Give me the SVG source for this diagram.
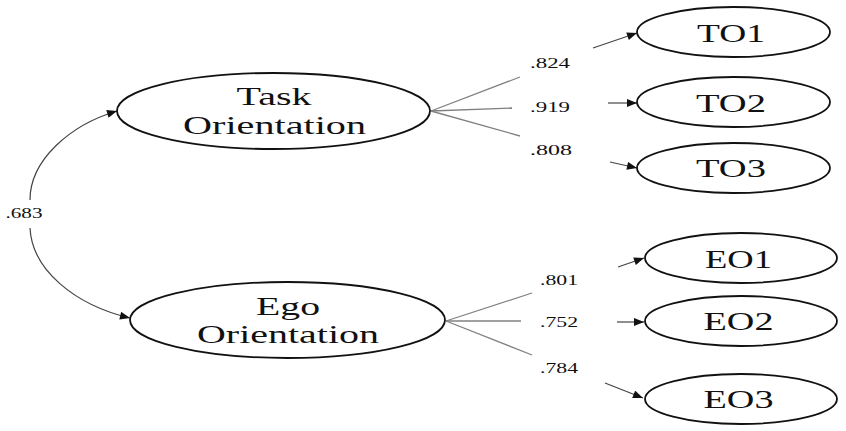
<svg xmlns="http://www.w3.org/2000/svg" width="846" height="431" viewBox="0 0 846 431">
<style>
.node ellipse{fill:#fff;stroke:#111;stroke-width:1.8}
.big{font-family:"Liberation Serif","Times New Roman",serif;font-size:26px;fill:#111;text-anchor:middle}
.lbl{font-family:"Liberation Serif","Times New Roman",serif;font-size:14px;fill:#111;text-anchor:middle}
.load{stroke:#808080;stroke-width:1.3;fill:none}
.arr{stroke:#444;stroke-width:1.2;fill:none;marker-end:url(#ah)}
</style>
<defs>
<marker id="ah" viewBox="0 0 10 8" refX="10" refY="4" markerWidth="11" markerHeight="8" markerUnits="userSpaceOnUse" orient="auto">
<path d="M0,0 L10,4 L0,8 z" fill="#111"/>
</marker>
</defs>
<rect width="846" height="431" fill="#fff"/>
<g id="connectors">
<path class="arr" d="M30,200 C30,160 70,125 117,111"/>
<path class="arr" d="M30,228 C32,270 75,305 130,318"/>
<line class="load" x1="431" y1="111" x2="520" y2="77"/>
<line class="load" x1="431" y1="111" x2="512" y2="108"/>
<line class="load" x1="431" y1="111" x2="520" y2="136"/>
<line class="load" x1="446" y1="321" x2="532" y2="293"/>
<line class="load" x1="446" y1="321" x2="521" y2="321"/>
<line class="load" x1="446" y1="321" x2="532" y2="355"/>
<line class="arr" x1="593" y1="48" x2="637" y2="33"/>
<line class="arr" x1="608" y1="103" x2="637" y2="103"/>
<line class="arr" x1="610" y1="162" x2="637" y2="168"/>
<line class="arr" x1="618" y1="267" x2="644" y2="258"/>
<line class="arr" x1="617" y1="322" x2="644" y2="322"/>
<line class="arr" x1="605" y1="383" x2="643" y2="398"/>
<text class="lbl" x="24" y="218" textLength="37" lengthAdjust="spacingAndGlyphs">.683</text>
<text class="lbl" x="550" y="68" textLength="40" lengthAdjust="spacingAndGlyphs">.824</text>
<text class="lbl" x="550" y="112" textLength="40" lengthAdjust="spacingAndGlyphs">.919</text>
<text class="lbl" x="551" y="155" textLength="42" lengthAdjust="spacingAndGlyphs">.808</text>
<text class="lbl" x="559" y="285" textLength="38" lengthAdjust="spacingAndGlyphs">.801</text>
<text class="lbl" x="559" y="327" textLength="38" lengthAdjust="spacingAndGlyphs">.752</text>
<text class="lbl" x="559" y="373" textLength="38" lengthAdjust="spacingAndGlyphs">.784</text>
</g>
<g id="task" class="node">
<ellipse cx="273.5" cy="111" rx="156.5" ry="38"/>
<text class="big" x="274" y="105" textLength="75" lengthAdjust="spacingAndGlyphs">Task</text>
<text class="big" x="274.5" y="134" textLength="183" lengthAdjust="spacingAndGlyphs">Orientation</text>
</g>
<g id="ego" class="node">
<ellipse cx="287.5" cy="320" rx="157.5" ry="38"/>
<text class="big" x="288" y="315" textLength="64" lengthAdjust="spacingAndGlyphs">Ego</text>
<text class="big" x="288" y="343" textLength="182" lengthAdjust="spacingAndGlyphs">Orientation</text>
</g>
<g id="to1" class="node">
<ellipse cx="733.5" cy="32" rx="96.5" ry="25"/>
<text class="big" x="731" y="42" textLength="68" lengthAdjust="spacingAndGlyphs">TO1</text>
</g>
<g id="to2" class="node">
<ellipse cx="733.5" cy="102" rx="96.5" ry="25"/>
<text class="big" x="731" y="112" textLength="70" lengthAdjust="spacingAndGlyphs">TO2</text>
</g>
<g id="to3" class="node">
<ellipse cx="733.5" cy="168" rx="96.5" ry="25"/>
<text class="big" x="731" y="177" textLength="70" lengthAdjust="spacingAndGlyphs">TO3</text>
</g>
<g id="eo1" class="node">
<ellipse cx="741" cy="258" rx="96" ry="25"/>
<text class="big" x="738.5" y="268" textLength="67" lengthAdjust="spacingAndGlyphs">EO1</text>
</g>
<g id="eo2" class="node">
<ellipse cx="741" cy="321" rx="96" ry="25"/>
<text class="big" x="738.5" y="330" textLength="70" lengthAdjust="spacingAndGlyphs">EO2</text>
</g>
<g id="eo3" class="node">
<ellipse cx="741" cy="399" rx="96" ry="25"/>
<text class="big" x="738.5" y="408" textLength="70" lengthAdjust="spacingAndGlyphs">EO3</text>
</g>
</svg>
